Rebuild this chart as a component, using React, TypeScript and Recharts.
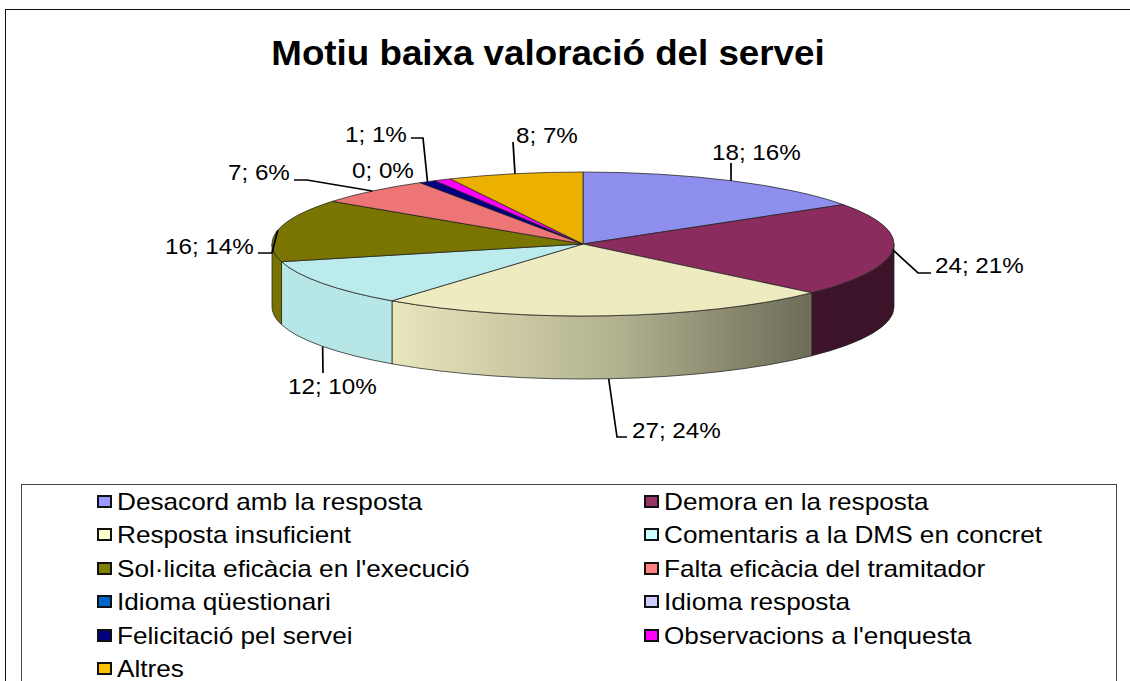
import React from "react";
import { PieChart, Pie, Legend } from "recharts";

const categories = [
  "Desacord amb la resposta",
  "Demora en la resposta",
  "Resposta insuficient",
  "Comentaris a la DMS en concret",
  "Sol·licita eficàcia en l'execució",
  "Falta eficàcia del tramitador",
  "Idioma qüestionari",
  "Idioma resposta",
  "Felicitació pel servei",
  "Observacions a l'enquesta",
  "Altres",
];
const counts = [18, 24, 27, 12, 16, 7, 0, 0, 1, 1, 8];
const percents = [16, 21, 24, 10, 14, 6, 0, 0, 1, 1, 7];
const shownLabels = [true, true, true, true, true, true, true, false, true, false, true];
const sliceColors = ["#8E8EEE", "#8B2C5E", "#EDEBBF", "#BBEBEC", "#7A7400", "#EE7575", "#0066CC", "#CCCCFF", "#000080", "#FF00FF", "#EBB000"];
const legendColors = ["#9999FF", "#993366", "#FFFFCC", "#CCFFFF", "#808000", "#FF8080", "#0066CC", "#CCCCFF", "#000080", "#FF00FF", "#FFC000"];

const pieData = categories.map((name, i) => ({
  name,
  value: counts[i],
  percent: percents[i],
  sliceColor: sliceColors[i],
  fill: legendColors[i],
}));

const FONT = "'Liberation Sans', Arial, sans-serif";
const CX = 583;
const CY = 244;
const RX = 311;
const TILT = 72 / 311;
const DEPTH = 63;
const SHADE_FROM = 392;
const SHADE_TO = 830;
const LABEL_STRETCH = 1.1;
const LEGEND_STRETCH = 1.09;
const TITLE_STRETCH = 1.05;

type LabelPlace = {
  below?: boolean;
  bend?: [number, number][];
  textX: number;
  textY: number;
  noLeader?: boolean;
};

// text anchor (left edge, vertical middle) and leader bends, in chart pixels
const labelPlaces: Record<number, LabelPlace> = {
  0: { bend: [[731, 163]], textX: 712, textY: 152 },
  1: { bend: [[918, 273], [931, 273]], textX: 935, textY: 265 },
  2: { below: true, bend: [[617, 437], [627, 437]], textX: 632, textY: 430 },
  3: { below: true, bend: [[323, 373]], textX: 288, textY: 386 },
  4: { bend: [[272, 253], [258, 253]], textX: 165, textY: 246 },
  5: { bend: [[307, 180], [294, 180]], textX: 228, textY: 172 },
  6: { textX: 352, textY: 170, noLeader: true },
  8: { bend: [[423, 138], [411, 138]], textX: 345, textY: 134 },
  10: { bend: [[513, 142]], textX: 516, textY: 135 },
};

const shade = (hex: string, k: number) => {
  const n = parseInt(hex.slice(1), 16);
  const c = [(n >> 16) & 255, (n >> 8) & 255, n & 255].map((v) => Math.round(v * k));
  return `rgb(${c[0]},${c[1]},${c[2]})`;
};

const pointAt = (cx: number, cy: number, rx: number, clock: number): [number, number] => {
  const a = (clock * Math.PI) / 180;
  return [cx + rx * Math.sin(a), cy - rx * TILT * Math.cos(a)];
};

const Slice3D = (props: any) => {
  const { cx, cy, outerRadius, startAngle, endAngle, index, payload } = props;
  const s = 90 - startAngle;
  const e = 90 - endAngle;
  if (Math.abs(e - s) < 0.01) return null;
  const rx = outerRadius;
  const ry = rx * TILT;
  const color = payload?.sliceColor ?? sliceColors[index];
  const p0 = pointAt(cx, cy, rx, s);
  const p1 = pointAt(cx, cy, rx, e);
  const large = e - s > 180 ? 1 : 0;
  const top = `M${cx},${cy} L${p0[0]},${p0[1]} A${rx},${ry} 0 ${large} 1 ${p1[0]},${p1[1]} Z`;

  const ws = Math.max(s, 90);
  const we = Math.min(e, 270);
  let wall: React.ReactNode = null;
  if (we > ws) {
    const a = pointAt(cx, cy, rx, ws);
    const b = pointAt(cx, cy, rx, we);
    const d = `M${a[0]},${a[1]} A${rx},${ry} 0 0 1 ${b[0]},${b[1]} L${b[0]},${b[1] + DEPTH} A${rx},${ry} 0 0 0 ${a[0]},${a[1] + DEPTH} Z`;
    const id = `wall-${index}`;
    wall = (
      <g>
        <defs>
          <linearGradient id={id} gradientUnits="userSpaceOnUse" x1={SHADE_FROM} x2={SHADE_TO} y1={0} y2={0}>
            <stop offset="0" stopColor={shade(color, 0.98)} />
            <stop offset="0.5" stopColor={shade(color, 0.76)} />
            <stop offset="1" stopColor={shade(color, 0.43)} />
          </linearGradient>
        </defs>
        <path d={d} fill={`url(#${id})`} stroke="#222" strokeOpacity={0.75} strokeWidth={1} strokeLinejoin="round" />
      </g>
    );
  }
  return (
    <g>
      {wall}
      <path d={top} fill={color} stroke="#222" strokeOpacity={0.75} strokeWidth={1} strokeLinejoin="round" />
    </g>
  );
};

const SliceLabel = (props: any) => {
  const { cx, cy, outerRadius, midAngle, index } = props;
  if (!shownLabels[index]) return null;
  const place = labelPlaces[index];
  if (!place) return null;
  const start = pointAt(cx, cy, outerRadius, 90 - midAngle);
  const y0 = place.below ? start[1] + DEPTH : start[1];
  const pts = [[start[0], y0], ...(place.bend ?? [])].map((p) => p.join(",")).join(" ");
  return (
    <g>
      {!place.noLeader && <polyline points={pts} fill="none" stroke="#000" strokeWidth={1.7} />}
      <text
        transform={`translate(${place.textX},${place.textY}) scale(${LABEL_STRETCH},1)`}
        dominantBaseline="central"
        fontFamily={FONT}
        fontSize={22}
        fill="#000"
      >
        {`${counts[index]}; ${percents[index]}%`}
      </text>
    </g>
  );
};

const LegendBox = ({ payload }: any) => (
  <div
    style={{
      boxSizing: "border-box",
      width: 1096,
      height: 230,
      border: "1px solid #444",
      background: "#fff",
      position: "relative",
      fontFamily: FONT,
      fontSize: 24,
      color: "#000",
    }}
  >
    {(payload ?? []).map((item: any, i: number) => {
      const col = i % 2;
      const row = Math.floor(i / 2);
      return (
        <div
          key={item.value}
          style={{
            position: "absolute",
            left: col === 0 ? 75 : 622,
            top: row * 33.4,
            height: 33,
            lineHeight: "33px",
            whiteSpace: "nowrap",
            display: "flex",
            alignItems: "center",
          }}
        >
          <span
            style={{
              boxSizing: "border-box",
              display: "inline-block",
              width: 15,
              height: 13,
              border: "2px solid #111",
              background: item.color,
              marginRight: 5,
            }}
          />
          <span style={{ display: "inline-block", transform: `scaleX(${LEGEND_STRETCH})`, transformOrigin: "left center" }}>
            {item.value}
          </span>
        </div>
      );
    })}
  </div>
);

export default function App() {
  return (
    <div style={{ position: "fixed", left: 0, top: 0, width: 1130, height: 681, overflow: "hidden", background: "#fff" }}>
      <div
        style={{
          position: "absolute",
          left: 5,
          top: 9,
          width: 1200,
          height: 800,
          border: "1px solid #111",
          boxSizing: "border-box",
        }}
      />
      <PieChart width={1130} height={681} style={{ position: "absolute", left: 0, top: 0 }} margin={{ top: 0, right: 0, bottom: 0, left: 0 }}>
        <text
          transform={`translate(548,53) scale(${TITLE_STRETCH},1)`}
          textAnchor="middle"
          dominantBaseline="central"
          fontFamily={FONT}
          fontWeight="bold"
          fontSize={35}
          fill="#000"
        >
          Motiu baixa valoració del servei
        </text>
        <Pie
          data={pieData}
          dataKey="value"
          nameKey="name"
          cx={CX}
          cy={CY}
          innerRadius={0}
          outerRadius={RX}
          startAngle={90}
          endAngle={-270}
          isAnimationActive={false}
          shape={Slice3D}
          label={SliceLabel}
          labelLine={false}
          stroke="none"
        />
        <Legend
          content={<LegendBox />}
          itemSorter={null}
          wrapperStyle={{ position: "absolute", left: 21, top: 484, width: 1096, height: 230, bottom: "auto", right: "auto" }}
        />
      </PieChart>
    </div>
  );
}
